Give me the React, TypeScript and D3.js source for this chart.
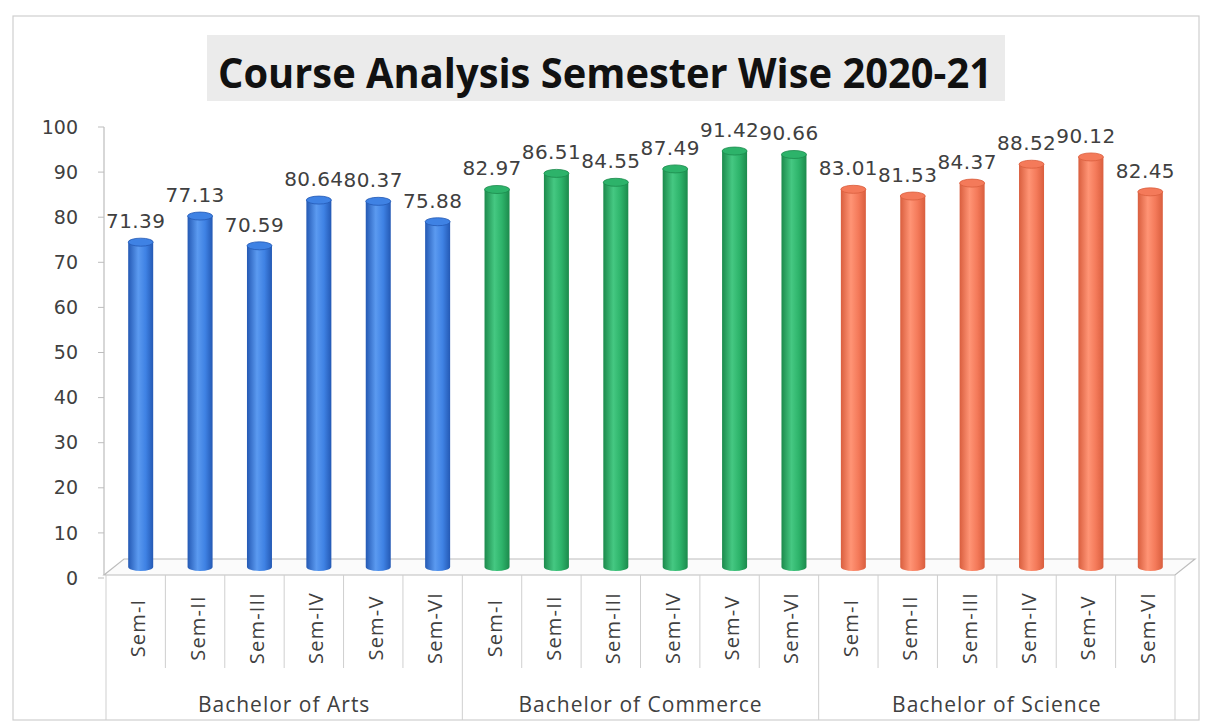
import React from "react";
import * as d3 from "d3";

const title = "Course Analysis Semester Wise 2020-21";
const groups = ["Bachelor of Arts", "Bachelor of Commerce", "Bachelor of Science"];
const semesters = ["Sem-I", "Sem-II", "Sem-III", "Sem-IV", "Sem-V", "Sem-VI"];
const artsValues = [71.39, 77.13, 70.59, 80.64, 80.37, 75.88];
const commerceValues = [82.97, 86.51, 84.55, 87.49, 91.42, 90.66];
const scienceValues = [83.01, 81.53, 84.37, 88.52, 90.12, 82.45];
const yTicks = [0, 10, 20, 30, 40, 50, 60, 70, 80, 90, 100];
const groupColors = [
  { edge: "#2459b4", mid: "#3f82e4", light: "#5b9af0" },
  { edge: "#1c8a4c", mid: "#2db36a", light: "#45c882" },
  { edge: "#d95e3e", mid: "#f47a5a", light: "#ff9475" },
];

const W = 1212;
const H = 724;

export default function App() {
  const groupSeries = [artsValues, commerceValues, scienceValues];
  const rows = groups.flatMap((g, gi) =>
    semesters.map((s, si) => ({ key: `${gi}-${si}`, group: gi, sem: s, value: groupSeries[gi][si] }))
  );

  const x = d3.scaleBand<string>().domain(rows.map((r) => r.key)).range([106, 1175]).padding(0);
  const bw = x.bandwidth();
  const yAxis = d3.scaleLinear().domain([0, 100]).range([578, 127]);
  const yBar = d3.scaleLinear().domain([0, 100]).range([567, 112]);

  const frontY = 575;
  const backY = 559;
  const depthDx = 20;
  const barW = 25;
  const barShift = 5;
  const capRy = 4;

  const textGray = "#404040";
  const lineGray = "#bdbdbd";

  return (
    <svg width={W} height={H} style={{ position: "absolute", left: 0, top: 0, background: "#fff" }}>
      <defs>
        {groupColors.map((c, i) => (
          <linearGradient key={i} id={`cyl${i}`} x1="0" x2="1" y1="0" y2="0">
            <stop offset="0%" stopColor={c.edge} />
            <stop offset="40%" stopColor={c.light} />
            <stop offset="70%" stopColor={c.mid} />
            <stop offset="100%" stopColor={c.edge} />
          </linearGradient>
        ))}
      </defs>

      {/* outer frame */}
      <rect x={13} y={16} width={1186} height={704} fill="none" stroke="#cfcfcf" strokeWidth={1.2} />

      {/* title */}
      <rect x={207} y={35} width={798} height={66} fill="#ebebeb" />
      <text
        x={605}
        y={88}
        textAnchor="middle"
        fontFamily="'Open Sans', sans-serif"
        fontWeight={700}
        fontSize={41}
        fill="#111"
        textLength={774}
        lengthAdjust="spacingAndGlyphs"
      >
        {title}
      </text>

      {/* y axis */}
      <line x1={104} x2={104} y1={yAxis(100)} y2={frontY} stroke={lineGray} strokeWidth={1.2} />
      {yTicks.map((t) => (
        <g key={t}>
          <line x1={98} x2={104} y1={yAxis(t)} y2={yAxis(t)} stroke={lineGray} />
          <text
            x={78}
            y={yAxis(t)}
            dy="0.35em"
            textAnchor="end"
            fontFamily="'DejaVu Sans', sans-serif"
            fontSize={19}
            fill={textGray}
          >
            {t}
          </text>
        </g>
      ))}

      {/* floor */}
      <path
        d={`M104,${frontY} L1175,${frontY} L${1175 + depthDx},${backY} L${104 + depthDx},${backY} Z`}
        fill="#fbfbfb"
        stroke={lineGray}
        strokeWidth={1.2}
      />

      {/* category separators */}
      {rows.map((r, i) => {
        const x0 = x(r.key)!;
        const isGroupStart = i % semesters.length === 0;
        return (
          <line key={`sep${i}`} x1={x0} x2={x0} y1={frontY} y2={isGroupStart ? 720 : 668} stroke="#cfcfcf" />
        );
      })}
      <line x1={1175} x2={1175} y1={frontY} y2={720} stroke="#cfcfcf" />

      {/* bars */}
      {rows.map((r) => {
        const cx = x(r.key)! + bw / 2 + barShift;
        const top = yBar(r.value);
        const base = yBar(0);
        const x0 = cx - barW / 2;
        return (
          <g key={`bar${r.key}`}>
            <path
              d={`M${x0},${top} L${x0},${base} A${barW / 2},${capRy} 0 0 0 ${x0 + barW},${base} L${x0 + barW},${top} Z`}
              fill={`url(#cyl${r.group})`}
            />
            <ellipse cx={cx} cy={top} rx={barW / 2} ry={capRy} fill={groupColors[r.group].mid} stroke={groupColors[r.group].edge} strokeWidth={0.8} />
          </g>
        );
      })}

      {/* value labels */}
      {rows.map((r) => {
        const cx = x(r.key)! + bw / 2;
        return (
          <text
            key={`lab${r.key}`}
            x={cx}
            y={yBar(r.value) - capRy - 10}
            textAnchor="middle"
            fontFamily="'DejaVu Sans', sans-serif"
            fontSize={20}
            letterSpacing={0.4}
            fill={textGray}
          >
            {r.value.toFixed(2)}
          </text>
        );
      })}

      {/* semester labels */}
      {rows.map((r) => {
        const cx = x(r.key)! + bw / 2 + 2;
        return (
          <text
            key={`sem${r.key}`}
            transform={`translate(${cx},628) rotate(-90)`}
            textAnchor="middle"
            dominantBaseline="central"
            fontFamily="'Open Sans', sans-serif"
            fontSize={20}
            letterSpacing={1.2}
            fill={textGray}
          >
            {r.sem}
          </text>
        );
      })}

      {/* group labels */}
      {groups.map((g, gi) => {
        const first = x(`${gi}-0`)!;
        const last = x(`${gi}-${semesters.length - 1}`)! + bw;
        return (
          <text
            key={g}
            x={(first + last) / 2}
            y={705}
            dy="0.35em"
            textAnchor="middle"
            fontFamily="'Open Sans', sans-serif"
            fontSize={21}
            letterSpacing={1}
            fill={textGray}
          >
            {g}
          </text>
        );
      })}
    </svg>
  );
}
